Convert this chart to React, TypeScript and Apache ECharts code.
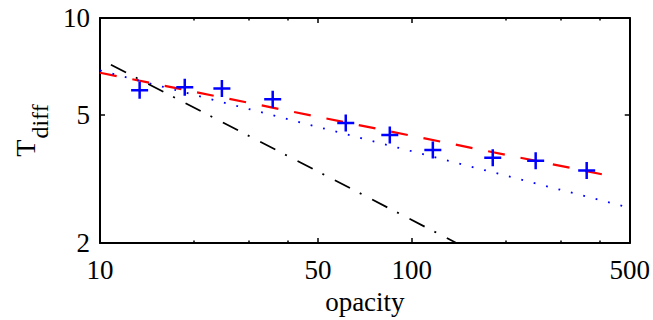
import React, { useEffect, useRef } from "react";
import * as echarts from "echarts";

// ---- data ----
const xRange = [10, 500];
const yRange = [2, 10];
const xMajorTicks = [10, 50, 100, 500];
const xMinorTicks = [20, 30, 40, 200, 300, 400];
const yMajorTicks = [2, 5, 10];

// measured points (blue +)
const opacity = [13.4, 18.7, 24.6, 35.8, 61.4, 85, 116.8, 181.8, 249.6, 363.8];
const tdiff = [5.96, 6.09, 6.04, 5.59, 4.72, 4.33, 3.89, 3.68, 3.6, 3.36];

// fitted power laws (endpoints)
const redFitX = [10, 455];
const redFitY = [6.76, 3.2];
const blueFitX = [10, 480];
const blueFitY = [6.87, 2.6];
const blackFitX = [10.84, 139];
const blackFitY = [7.16, 2.0];

const FONT = "'Liberation Serif', 'Times New Roman', serif";
const lg = (v: number) => Math.log10(v);
const pairs = (xs: number[], ys: number[]) => xs.map((x, i) => [lg(x), lg(ys[i])]);
const fmt = (v: number) => String(Math.round(Math.pow(10, v)));

const PLUS = "path://M7.25,0 H9.75 V17 H7.25 Z M0,7.25 H17 V9.75 H0 Z";

export default function App() {
  const ref = useRef<HTMLDivElement>(null);
  useEffect(() => {
    if (!ref.current) return;
    const chart = echarts.init(ref.current, undefined, { renderer: "svg" });
    const xBase = {
      type: "value" as const,
      min: lg(xRange[0]),
      max: lg(xRange[1]),
      splitLine: { show: false },
    };
    const yBase = {
      type: "value" as const,
      min: lg(yRange[0]),
      max: lg(yRange[1]),
      splitLine: { show: false },
    };
    const axisLine = { show: true, lineStyle: { color: "#000", width: 2 } };
    const labelStyle = { color: "#000", fontFamily: FONT, fontSize: 27 };
    chart.setOption({
      animation: false,
      grid: { left: 100, right: 23, top: 18, bottom: 75 },
      xAxis: [
        {
          ...xBase,
          position: "bottom",
          axisLine,
          axisTick: {
            show: true,
            inside: true,
            length: 5,
            customValues: xMajorTicks.map(lg),
            lineStyle: { color: "#000", width: 1.5 },
          },
          axisLabel: {
            show: true,
            customValues: xMajorTicks.map(lg),
            formatter: fmt,
            margin: 13,
            ...labelStyle,
          },
          name: "opacity",
          nameLocation: "middle",
          nameGap: 45,
          nameTextStyle: { color: "#000", fontFamily: FONT, fontSize: 27 },
        },
        {
          ...xBase,
          position: "bottom",
          axisLine: { show: false },
          axisTick: {
            show: true,
            inside: true,
            length: 2.5,
            customValues: xMinorTicks.map(lg),
            lineStyle: { color: "#000", width: 1.5 },
          },
          axisLabel: { show: false },
        },
        {
          ...xBase,
          position: "top",
          axisLine,
          axisTick: {
            show: true,
            inside: true,
            length: 5,
            customValues: xMajorTicks.map(lg),
            lineStyle: { color: "#000", width: 1.5 },
          },
          axisLabel: { show: false },
        },
        {
          ...xBase,
          position: "top",
          axisLine: { show: false },
          axisTick: {
            show: true,
            inside: true,
            length: 2.5,
            customValues: xMinorTicks.map(lg),
            lineStyle: { color: "#000", width: 1.5 },
          },
          axisLabel: { show: false },
        },
      ],
      yAxis: [
        {
          ...yBase,
          position: "left",
          axisLine,
          axisTick: {
            show: true,
            inside: true,
            length: 5,
            customValues: yMajorTicks.map(lg),
            lineStyle: { color: "#000", width: 1.5 },
          },
          axisLabel: {
            show: true,
            customValues: yMajorTicks.map(lg),
            formatter: fmt,
            margin: 10,
            ...labelStyle,
          },
          name: "{t|T}{s|diff}",
          nameLocation: "middle",
          nameGap: 57,
          nameRotate: 90,
          nameTextStyle: {
            color: "#000",
            fontFamily: FONT,
            rich: {
              t: { fontFamily: FONT, fontSize: 28, lineHeight: 30, verticalAlign: "top", color: "#000" },
              s: {
                fontFamily: FONT,
                fontSize: 24,
                lineHeight: 24,
                padding: [17, 0, 0, 1],
                verticalAlign: "top",
                color: "#000",
              },
            },
          },
        },
        {
          ...yBase,
          position: "right",
          axisLine,
          axisTick: {
            show: true,
            inside: true,
            length: 5,
            customValues: yMajorTicks.map(lg),
            lineStyle: { color: "#000", width: 1.5 },
          },
          axisLabel: { show: false },
        },
      ],
      series: [
        {
          type: "line",
          data: pairs(redFitX, redFitY),
          showSymbol: false,
          symbol: "none",
          lineStyle: { color: "#ff0000", width: 2.2, type: [17, 16] },
          z: 2,
        },
        {
          type: "line",
          data: pairs(blueFitX, blueFitY),
          symbol: "none",
          lineStyle: { color: "#0000ff", width: 1.8, type: [1.8, 11] },
          z: 2,
        },
        {
          type: "line",
          data: pairs(blackFitX, blackFitY),
          symbol: "none",
          lineStyle: { color: "#000000", width: 1.8, type: [17, 11, 2, 12] },
          z: 2,
        },
        {
          type: "scatter",
          data: pairs(opacity, tdiff),
          symbol: PLUS,
          symbolSize: 17,
          itemStyle: { color: "#0000ff", opacity: 1 },
          z: 3,
        },
      ],
    });
    return () => chart.dispose();
  }, []);
  return (
    <div
      ref={ref}
      style={{ position: "fixed", left: 0, top: 0, width: 653, height: 320, background: "#fff" }}
    />
  );
}
